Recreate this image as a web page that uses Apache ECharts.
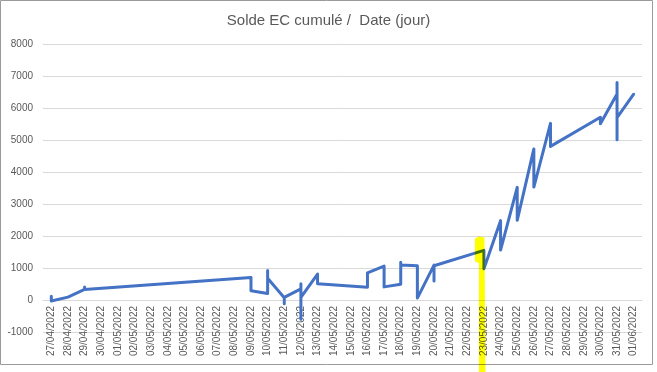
<!DOCTYPE html>
<html>
<head>
<meta charset="utf-8">
<script src="https://cdn.jsdelivr.net/npm/echarts@6/dist/echarts.min.js"></script>
<style>
html,body{margin:0;padding:0;background:#ffffff;}
#c{width:657px;height:372px;}
</style>
</head>
<body>
<div id="c"></div>
<script>
// Category (date) labels of the x axis
const dateLabels = [
  '27/04/2022','28/04/2022','29/04/2022','30/04/2022','01/05/2022','02/05/2022',
  '03/05/2022','04/05/2022','05/05/2022','06/05/2022','07/05/2022','08/05/2022',
  '09/05/2022','10/05/2022','11/05/2022','12/05/2022','13/05/2022','14/05/2022',
  '15/05/2022','16/05/2022','17/05/2022','18/05/2022','19/05/2022','20/05/2022',
  '21/05/2022','22/05/2022','23/05/2022','24/05/2022','25/05/2022','26/05/2022',
  '27/05/2022','28/05/2022','29/05/2022','30/05/2022','31/05/2022','01/06/2022'
];

// Every recorded point (several per day), in recording order
const pointDates = [
  '27/04/2022','27/04/2022','27/04/2022',
  '28/04/2022',
  '29/04/2022','29/04/2022','29/04/2022',
  '09/05/2022','09/05/2022',
  '10/05/2022','10/05/2022','10/05/2022',
  '11/05/2022','11/05/2022','11/05/2022',
  '12/05/2022','12/05/2022','12/05/2022','12/05/2022',
  '13/05/2022','13/05/2022',
  '16/05/2022','16/05/2022',
  '17/05/2022','17/05/2022',
  '18/05/2022','18/05/2022','18/05/2022',
  '19/05/2022','19/05/2022',
  '20/05/2022','20/05/2022','20/05/2022',
  '23/05/2022','23/05/2022',
  '24/05/2022','24/05/2022',
  '25/05/2022','25/05/2022',
  '26/05/2022','26/05/2022',
  '27/05/2022','27/05/2022',
  '30/05/2022','30/05/2022',
  '31/05/2022','31/05/2022','31/05/2022','31/05/2022',
  '01/06/2022'
];
const pointValues = [
  120, -30, 10,
  90,
  330, 410, 330,
  700, 290,
  200, 920, 680,
  70, -120, 80,
  350, 510, -600, 80,
  810, 510,
  400, 850,
  1060, 410,
  490, 1180, 1090,
  1070, 60,
  1090, 590, 1070,
  1550, 980,
  2480, 1560,
  3520, 2490,
  4720, 3530,
  5520, 4800,
  5710, 5510,
  6440, 6800, 5010, 5700,
  6430
];

const yMin = -1000, yMax = 8000, yStep = 1000;
const titleText = 'Solde EC cumulé /  Date (jour)';
const highlightDate = '23/05/2022';

const seriesData = pointDates.map((d, i) => [dateLabels.indexOf(d), pointValues[i]]);

const GRID_TOP = 44, GRID_BOTTOM = 40, H = 372;
// the category axis sits on the zero line: shift it up by the pixel height of |yMin|
const zeroShift = (H - GRID_TOP - GRID_BOTTOM) * (0 - yMin) / (yMax - yMin);

const FONT = '"Liberation Sans", Arial, sans-serif';
const chart = echarts.init(document.getElementById('c'), null, {renderer: 'canvas'});
chart.setOption({
  animation: false,
  backgroundColor: '#ffffff',
  title: {
    text: titleText,
    left: 'center',
    top: 8,
    textStyle: {fontSize: 15, fontWeight: 'normal', color: '#595959', fontFamily: FONT}
  },
  grid: {left: 43, right: 15, top: GRID_TOP, bottom: GRID_BOTTOM, containLabel: false, outerBoundsMode: 'none'},
  xAxis: [
    {
      type: 'category',
      data: dateLabels,
      boundaryGap: true,
      offset: -zeroShift,
      axisLine: {show: true, onZero: false, lineStyle: {color: '#d9d9d9', width: 1}},
      axisTick: {show: false},
      splitLine: {show: false},
      axisLabel: {rotate: 90, interval: 0, fontSize: 10, color: '#595959', fontFamily: FONT, margin: 6,
                  hideOverlap: false}
    },
    {
      type: 'value',
      min: -0.5,
      max: dateLabels.length - 0.5,
      show: false,
      splitLine: {show: false}
    }
  ],
  yAxis: {
    type: 'value',
    min: yMin,
    max: yMax,
    interval: yStep,
    axisLine: {show: false},
    axisTick: {show: false},
    splitLine: {lineStyle: {color: '#d9d9d9', width: 1}},
    axisLabel: {fontSize: 10, color: '#595959', fontFamily: FONT, margin: 10,
                formatter: v => String(v)}
  },
  series: [{
    type: 'line',
    xAxisIndex: 1,
    yAxisIndex: 0,
    data: seriesData,
    showSymbol: false,
    symbol: 'none',
    lineStyle: {color: '#4472C4', width: 3, join: 'round', cap: 'round'},
    z: 10
  }]
});

// highlighter mark and chart frame
const hx = chart.convertToPixel({xAxisIndex: 1}, dateLabels.indexOf(highlightDate));
const hTop = chart.convertToPixel({yAxisIndex: 0}, 1950);
const hMid = chart.convertToPixel({yAxisIndex: 0}, 1150);
chart.setOption({
  graphic: [
    {
      type: 'rect',
      z: 50,
      silent: true,
      shape: {x: 0.5, y: 0.5, width: 652, height: 364},
      style: {fill: null, stroke: '#9a9a9a', lineWidth: 1}
    },
    {
      type: 'polygon',
      z: 100,
      silent: true,
      shape: {points: [
        [hx - 9, hTop + 1], [hx - 5, hTop - 1], [hx + 0.5, hTop], [hx + 1.5, 372],
        [hx - 5, 372], [hx - 5, hMid], [hx - 9, hMid - 2]
      ]},
      style: {fill: '#ffff00', blend: 'multiply'}
    }
  ]
});
</script>
</body>
</html>
